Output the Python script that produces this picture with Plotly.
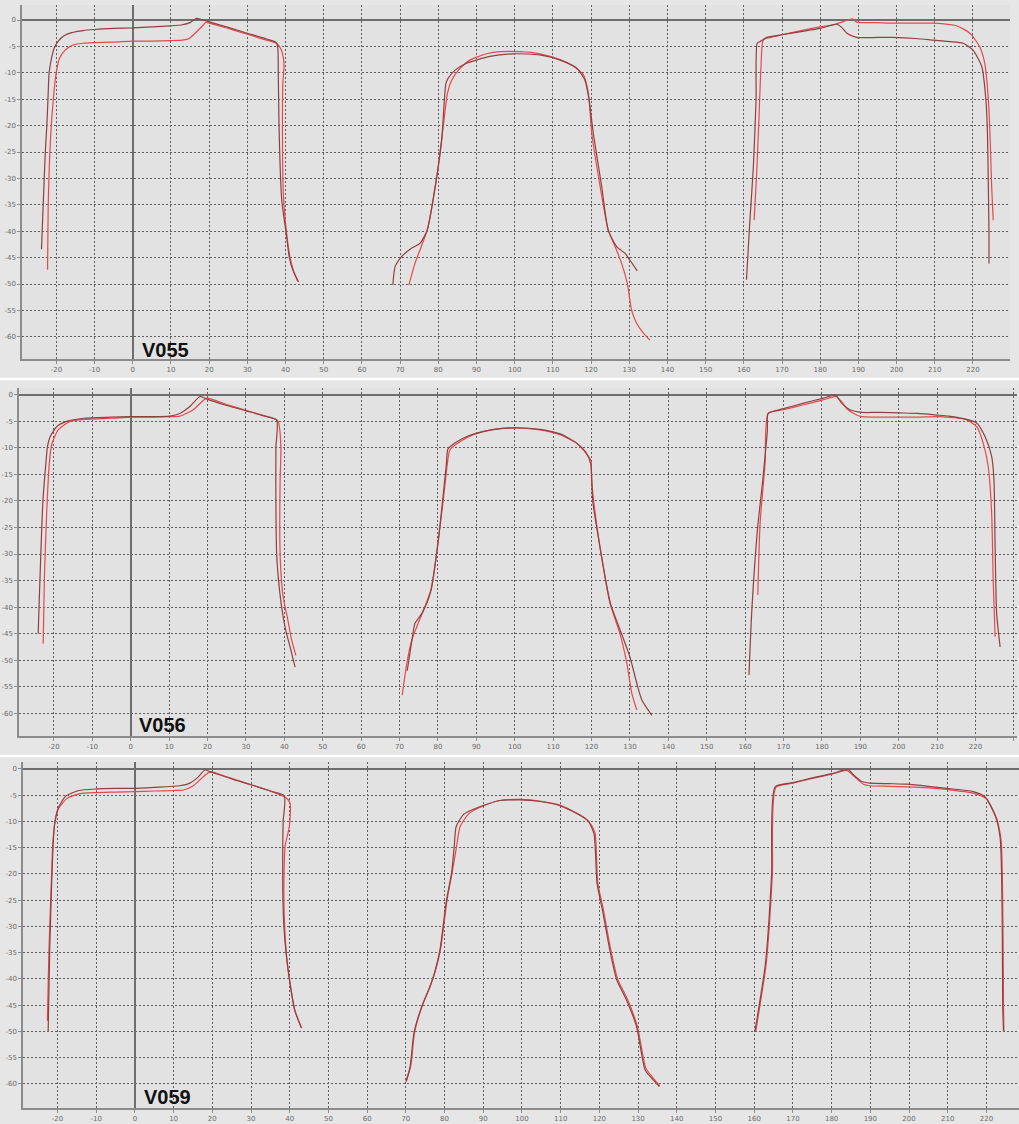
import plotly.graph_objects as go

# ---------------- data ----------------
panel_names = ["V055", "V056", "V059"]
x_tick_vals = list(range(-20, 231, 10))
y_tick_vals = list(range(0, -61, -5))

# ---- V055 ----
v055_left_a_x = [-23.9, -23.4, -22.9, -22.5, -22.2, -21.9, -21.2, -20.5, -19.5, -18, -16, -13, -10, -5, 0, 5, 10, 13, 15, 16.7, 18, 19.8, 25, 30, 35, 37.6, 38.0, 38.1, 38.3, 38.6, 39.0, 39.5, 40.2, 41.0, 42.0, 43.4]
v055_left_a_y = [-43.4, -34.0, -25.0, -20, -15, -10, -7, -5.2, -4.0, -3.0, -2.4, -2.0, -1.8, -1.6, -1.5, -1.3, -1.1, -0.9, -0.5, 0.3, 0.1, -0.3, -1.4, -2.5, -3.6, -4.3, -5.5, -10, -20, -28, -34, -37, -40.5, -45.0, -47.5, -49.6]
v055_left_b_x = [-22.3, -22.1, -21.5, -20.8, -20.1, -19.2, -17.7, -15.5, -13, -10.2, -5, 0, 5, 10, 13, 14.8, 15.9, 17.2, 18.4, 19.2, 20, 25, 30, 35, 37.8, 38.8, 39.4, 39.6, 39.3, 39.2, 39.3, 39.6, 40.3, 41.2, 42.2, 43.2]
v055_left_b_y = [-47.3, -34.0, -22, -15, -10.3, -7.3, -5.7, -4.7, -4.4, -4.3, -4.2, -4.0, -4.0, -3.9, -3.8, -3.5, -2.8, -1.9, -1.0, -0.4, -0.6, -1.6, -2.7, -3.8, -4.5, -5.5, -7.0, -9, -12, -20, -30, -35, -40.5, -45, -47.8, -49.5]
v055_mid_a_x = [68.1, 68.7, 70.4, 72.6, 75.2, 77.1, 79.6, 80.9, 82.0, 82.6, 84.4, 87.4, 93.5, 99.6, 106.6, 111.9, 116.2, 118.4, 119.5, 120.6, 122.8, 124.5, 126.7, 128.9, 130.2, 132.1]
v055_mid_a_y = [-50.2, -46.7, -44.8, -43.4, -42.3, -39.8, -29.7, -22.7, -12.0, -11.0, -9.5, -8.2, -6.9, -6.4, -6.6, -7.6, -9.1, -11.4, -15.2, -21.5, -31.6, -39.8, -42.9, -44.2, -45.5, -47.5]
v055_mid_b_x = [72.3, 73.9, 75.7, 77.1, 79.6, 81.3, 82.4, 83.5, 85.3, 88.3, 92.7, 96.2, 101.4, 106.6, 111.9, 115.3, 118.0, 119.3, 120.2, 122.4, 124.5, 126.3, 128.0, 129.5, 130.6, 131.9, 133.7, 135.4]
v055_mid_b_y = [-50.2, -46.1, -42.6, -39.8, -29.7, -20.2, -13.9, -11.4, -9.5, -7.6, -6.4, -6.0, -6.0, -6.4, -7.5, -8.7, -10.4, -13.9, -21.5, -31.6, -39.8, -42.9, -46.1, -49.9, -54.9, -57.4, -59.3, -60.6]
v055_right_a_x = [160.7, 161.6, 162.5, 163.2, 163.5, 164.2, 166.0, 170, 175, 180, 184.3, 185.5, 187, 189.5, 195, 199.1, 205, 209.6, 214, 217.4, 220.0, 222.3, 223.4, 223.8, 224.0, 224.2, 224.2]
v055_right_a_y = [-49.2, -37.9, -27.8, -15.2, -4.4, -4.1, -3.3, -2.8, -2.2, -1.6, -0.8, -1.3, -2.5, -3.3, -3.3, -3.3, -3.5, -3.8, -4.1, -4.4, -5.7, -8.8, -15.2, -21.5, -30, -40.4, -46.1]
v055_right_b_x = [162.7, 163.3, 163.9, 164.5, 165.1, 167, 170, 175, 180, 184, 186.5, 188.5, 189.5, 195, 199.1, 205, 209.6, 215.7, 219.2, 221.8, 223.1, 223.7, 224.2, 224.6, 224.9, 225.3]
v055_right_b_y = [-37.9, -30, -20, -8.8, -3.8, -3.3, -2.8, -2.0, -1.3, -0.8, -0.2, 0.2, -0.4, -0.5, -0.6, -0.6, -0.6, -1.1, -2.5, -5.1, -8.2, -12.0, -17.0, -24.6, -31.6, -37.9]

# ---- V056 ----
v056_left_a_x = [-24.1, -23.8, -23.2, -22.8, -22.1, -21.7, -21.0, -19.3, -16.7, -12.3, -5, 0, 5, 10.2, 12.8, 15.4, 18.0, 18.9, 20.2, 25, 30, 35, 38.0, 37.8, 37.8, 38.0, 38.5, 39.3, 40.4, 41.5, 42.8]
v056_left_a_y = [-45.0, -38.1, -25.5, -19.2, -12.9, -9.8, -7.9, -6.0, -5.0, -4.4, -4.2, -4.1, -4.1, -4.0, -3.5, -2.2, -0.3, -0.5, -0.9, -2.0, -3.0, -4.0, -4.7, -10, -20, -30, -35, -40, -44.5, -47.5, -51.3]
v056_left_b_x = [-22.8, -22.5, -21.9, -21.2, -20.6, -18.9, -15.8, -11.5, -5, 0, 5, 10, 12.8, 16.3, 18.5, 19.8, 25, 30, 35, 38.3, 39.1, 38.9, 38.8, 39.0, 39.7, 40.8, 41.9, 43.0]
v056_left_b_y = [-46.9, -34.9, -22.3, -12.9, -9.4, -6.6, -5.0, -4.6, -4.4, -4.2, -4.2, -4.1, -4.0, -2.8, -1.3, -0.6, -1.8, -2.9, -4.0, -4.9, -9.8, -16, -25, -32, -38.1, -42, -46.2, -49.1]
v056_mid_a_x = [72.0, 73.5, 74.0, 76.0, 78.0, 80.0, 81.2, 82.2, 82.6, 84.5, 88.0, 94.0, 100.0, 106.6, 112.0, 116.0, 118.5, 119.8, 120.3, 121.8, 123.7, 125.0, 127.8, 130.0, 131.8, 133.1, 135.7]
v056_mid_a_y = [-52.0, -45.0, -43.1, -41.0, -37.4, -28.0, -20.0, -13.0, -10.2, -9.0, -7.7, -6.6, -6.2, -6.5, -7.4, -9.0, -10.8, -13.0, -20.0, -27.0, -35.0, -39.5, -45.0, -49.4, -54.4, -57.5, -60.4]
v056_mid_b_x = [70.7, 71.9, 73.2, 74.5, 76.6, 78.4, 80.1, 81.4, 82.7, 83.1, 85.8, 89.2, 94.4, 99.6, 106.6, 111.8, 116.1, 117.9, 119.8, 120.0, 121.3, 123.5, 124.8, 127.4, 129.2, 130.5, 131.8]
v056_mid_b_y = [-56.6, -50.6, -46.2, -43.7, -39.9, -36.2, -27.4, -19.8, -11.6, -10.4, -8.8, -7.5, -6.5, -6.2, -6.6, -7.5, -9.1, -10.4, -12.3, -16.0, -24.2, -34.3, -39.3, -45.0, -50.6, -56.3, -59.4]
v056_right_a_x = [161.0, 161.7, 163.2, 164.6, 165.8, 166.0, 170, 175, 180.4, 183.4, 185.2, 187.3, 190.4, 195, 200.3, 205, 210, 213, 217.7, 220.3, 222.5, 224.2, 224.8, 225.1, 225.5, 226.4]
v056_right_a_y = [-52.8, -41.2, -25.5, -16.0, -6.6, -3.5, -2.6, -1.6, -0.6, 0.0, -1.6, -2.8, -3.3, -3.3, -3.4, -3.5, -3.8, -4.0, -4.6, -5.3, -7.9, -11.6, -16, -28.6, -41.2, -47.5]
v056_right_b_x = [163.3, 163.9, 165.2, 166.0, 170, 175, 180, 183.8, 185, 186.5, 188.5, 190.4, 195, 200.3, 205, 210.8, 217.7, 220.3, 222.0, 223.3, 224.2, 224.6, 225.1]
v056_right_b_y = [-37.7, -24.2, -12.9, -3.5, -2.8, -1.9, -1.0, -0.3, -1.2, -2.6, -3.6, -4.1, -4.2, -4.2, -4.2, -4.1, -4.7, -6.0, -9.1, -13.5, -22.3, -34.9, -45.6]

# ---- V059 ----
v059_left_a_x = [-22.4, -22.0, -21.5, -21.1, -20.7, -19.9, -17.9, -14.5, -10, -5, -0.4, 5, 11.6, 14.2, 16.4, 18.1, 19.4, 25, 30, 35, 38.6, 38.3, 38.2, 38.2, 38.5, 39.2, 40.1, 41.3, 43.0]
v059_left_a_y = [-50.0, -34.5, -21.8, -14.2, -10.3, -7.6, -5.2, -4.1, -3.8, -3.7, -3.7, -3.5, -3.2, -2.7, -1.5, -0.2, -0.5, -1.9, -3.0, -4.2, -5.1, -10, -15.4, -23, -30, -36, -41, -46, -49.3]
v059_left_b_x = [-22.6, -22.2, -21.6, -21.2, -20.6, -19.6, -17.5, -14.2, -10, -5, 0, 5, 10, 12.5, 15.1, 17.2, 19.0, 20, 25, 30, 35, 38.9, 40.1, 39.9, 38.8, 38.5, 39.2, 40.1, 41.3, 43.1]
v059_left_b_y = [-48.0, -34.5, -21.8, -14.2, -10.0, -7.4, -5.6, -4.7, -4.5, -4.4, -4.3, -4.2, -4.1, -4.0, -3.2, -1.8, -0.7, -0.6, -1.8, -3.0, -4.2, -5.4, -6.5, -11, -14.8, -25, -35.7, -40.8, -45.9, -49.4]
v059_mid_a_x = [70.0, 71.1, 72.1, 74.1, 76.2, 77.5, 78.8, 80.5, 81.8, 82.5, 83.0, 85.0, 89.1, 94.3, 99.5, 104.6, 109.8, 115.0, 117.1, 118.6, 119.4, 120.8, 122.7, 124.5, 127.0, 129.6, 131.8, 133.5, 135.5]
v059_mid_a_y = [-59.6, -56.7, -50.3, -45.3, -41.5, -38.6, -34.5, -25.0, -19.9, -14.8, -11.0, -8.6, -7.2, -6.0, -5.9, -6.2, -7.0, -8.8, -9.9, -12.3, -21.8, -26.9, -34.5, -40.2, -44.0, -49.1, -57.3, -58.9, -60.5]
v059_mid_b_x = [70.2, 71.3, 72.3, 74.3, 76.4, 77.7, 79.0, 80.7, 82.0, 83.1, 84.0, 86.3, 89.8, 94.3, 99.5, 104.6, 109.8, 114.5, 116.5, 118.0, 118.9, 119.6, 121.0, 122.9, 124.7, 127.2, 129.8, 132.0, 133.7, 135.6]
v059_mid_b_y = [-59.4, -56.5, -50.0, -45.0, -41.2, -38.3, -34.2, -24.7, -19.6, -14.8, -11.0, -8.5, -7.1, -6.0, -5.8, -6.1, -6.9, -8.6, -9.5, -10.8, -12.3, -21.8, -26.7, -34.3, -40.0, -43.8, -49.0, -57.0, -58.7, -60.4]
v059_right_a_x = [160.2, 161.5, 162.8, 163.7, 164.5, 165.4, 170, 175, 180, 184.3, 185.6, 187.8, 189.9, 195, 199.4, 205, 209.7, 216.6, 219.6, 222.2, 223.5, 223.9, 224.1, 224.2, 224.4]
v059_right_a_y = [-50.0, -44.0, -37.7, -30.0, -19.9, -3.4, -2.6, -1.7, -0.9, -0.1, -1.1, -2.4, -2.7, -2.8, -2.9, -3.3, -3.7, -4.3, -5.3, -8.8, -12.9, -19.9, -32.6, -45.3, -50.0]
v059_right_b_x = [160.4, 161.7, 163.0, 163.9, 164.7, 165.6, 170, 175, 180, 184.0, 185.8, 188.2, 189.9, 195, 199.4, 205, 209.7, 216.6, 220.0, 222.6, 223.8, 224.1, 224.3, 224.4, 224.5]
v059_right_b_y = [-50.0, -44.0, -37.7, -30.0, -19.9, -3.5, -2.7, -1.8, -1.0, -0.3, -1.4, -2.9, -3.2, -3.3, -3.4, -3.6, -3.9, -4.6, -5.7, -9.4, -13.8, -20.5, -32.6, -45.3, -50.0]

panels = [
    [(v055_left_a_x, v055_left_a_y, v055_left_b_x, v055_left_b_y),
     (v055_mid_a_x, v055_mid_a_y, v055_mid_b_x, v055_mid_b_y),
     (v055_right_a_x, v055_right_a_y, v055_right_b_x, v055_right_b_y)],
    [(v056_left_a_x, v056_left_a_y, v056_left_b_x, v056_left_b_y),
     (v056_mid_a_x, v056_mid_a_y, v056_mid_b_x, v056_mid_b_y),
     (v056_right_a_x, v056_right_a_y, v056_right_b_x, v056_right_b_y)],
    [(v059_left_a_x, v059_left_a_y, v059_left_b_x, v059_left_b_y),
     (v059_mid_a_x, v059_mid_a_y, v059_mid_b_x, v059_mid_b_y),
     (v059_right_a_x, v059_right_a_y, v059_right_b_x, v059_right_b_y)],
]

# ---------------- layout geometry (pixels of the 1019x1124 page) ----------------
W, H = 1019, 1124
panel_px = [  # x-left, x-right, y-top, y-bottom (plot areas)
    (22, 1010, 5, 359),
    (19, 1017, 388, 736),
    (23, 1019, 762, 1108),
]
x_ranges = [(-29.0, 229.7), (-29.1, 230.8), (-28.9, 228.4)]
y_ranges = [(-64.2, 2.84), (-64.3, 1.3), (-64.6, 1.33)]
label_px = [(140, 350), (137, 725), (142, 1097)]
sep_px = [379, 756]

DARK = "#8f4040"
RED = "#e6484c"

fig = go.Figure()

for i, groups in enumerate(panels):
    ax = "" if i == 0 else str(i + 1)
    for (ax_, ay_, bx_, by_) in groups:
        fig.add_trace(go.Scatter(x=bx_, y=by_, mode="lines", xaxis="x" + ax, yaxis="y" + ax,
                                 line=dict(color=RED, width=1.2, shape="spline", smoothing=0.6),
                                 hoverinfo="skip"))
        fig.add_trace(go.Scatter(x=ax_, y=ay_, mode="lines", xaxis="x" + ax, yaxis="y" + ax,
                                 line=dict(color=DARK, width=1.2, shape="spline", smoothing=0.6),
                                 hoverinfo="skip"))

axis_common = dict(
    showgrid=True, gridcolor="#5e5e5e", gridwidth=1, griddash="2px,2px",
    zeroline=True, zerolinecolor="#6e6e6e", zerolinewidth=1.5,
    showline=True, linecolor="#8c8c8c", linewidth=1.5,
    ticks="outside", ticklen=3, tickcolor="#8c8c8c",
    tickfont=dict(family="DejaVu Sans", size=7, color="#6a6a6a"),
    fixedrange=True,
)

layout = dict(
    width=W, height=H, margin=dict(l=0, r=0, t=0, b=0, pad=0),
    paper_bgcolor="#e6e6e6", plot_bgcolor="#e2e2e2", showlegend=False,
)
annotations = []
shapes = []
for i in range(3):
    xl, xr, yt, yb = panel_px[i]
    suffix = "" if i == 0 else str(i + 1)
    layout["xaxis" + suffix] = dict(
        axis_common, domain=[xl / W, min(xr / W, 1.0)], range=list(x_ranges[i]),
        anchor="y" + suffix, tickvals=x_tick_vals, ticktext=[str(v) for v in x_tick_vals],
    )
    layout["yaxis" + suffix] = dict(
        axis_common, domain=[1 - yb / H, 1 - yt / H], range=list(y_ranges[i]),
        anchor="x" + suffix, tickvals=y_tick_vals, ticktext=[str(v) for v in y_tick_vals],
    )
    lx, ly = label_px[i]
    annotations.append(dict(
        text="<b>" + panel_names[i] + "</b>", xref="paper", yref="paper",
        x=lx / W, y=1 - ly / H, xanchor="left", yanchor="middle", showarrow=False,
        font=dict(family="Liberation Sans, Arial, sans-serif", size=20, color="#111111"),
    ))
for s in sep_px:
    shapes.append(dict(type="line", xref="paper", yref="paper", x0=0, x1=1,
                       y0=1 - s / H, y1=1 - s / H, line=dict(color="#ffffff", width=2.5)))

layout["annotations"] = annotations
layout["shapes"] = shapes
fig.update_layout(**layout)

fig.write_html("out.html", config={"displayModeBar": False})
